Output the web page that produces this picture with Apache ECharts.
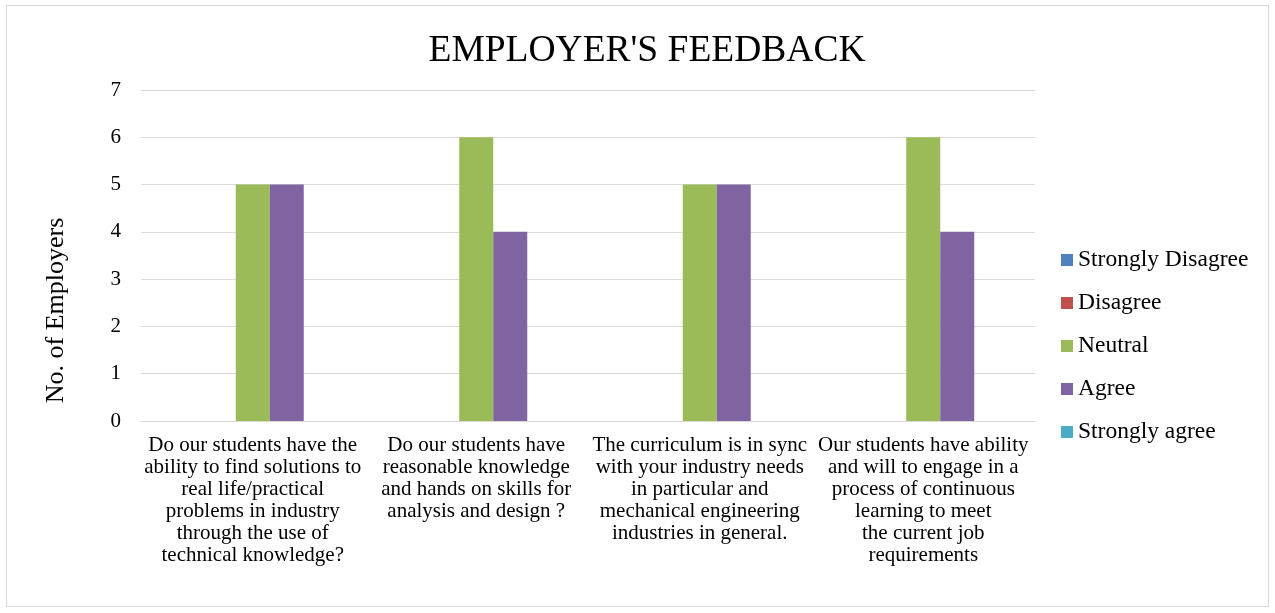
<!DOCTYPE html>
<html>
<head>
<meta charset="utf-8">
<script src="https://cdn.jsdelivr.net/npm/echarts@6/dist/echarts.min.js"></script>
<style>
    html, body { margin: 0; padding: 0; background: #fff; }
    .box { position: absolute; left: 6px; top: 5px; width: 1263px; height: 602px; border: 1px solid #d9d9d9; box-sizing: border-box; }
    #bar-chart { position: absolute; left: 0; top: 0; width: 1275px; height: 613px; }
</style>
</head>
<body>
<div class="box"></div>
<div id="bar-chart"></div>
<script>
const categories = [
    'Do our students have the\nability to find solutions to\nreal life/practical\nproblems in industry\nthrough the use of\ntechnical knowledge?',
    'Do our students have\nreasonable knowledge\nand hands on skills for\nanalysis and design ?',
    'The curriculum is in sync\nwith your industry needs\nin particular and\nmechanical engineering\nindustries in general.',
    'Our students have ability\nand will to engage in a\nprocess of continuous\nlearning to meet\nthe current job\nrequirements'
]
const stronglyDisagree = [0, 0, 0, 0]
const disagree = [0, 0, 0, 0]
const neutral = [5, 6, 5, 6]
const agree = [5, 4, 5, 4]
const stronglyAgree = [0, 0, 0, 0]

const font = '"Liberation Serif", "Times New Roman", serif'

function bar(name, data, color) {
    return {
        name: name,
        type: 'bar',
        data: data,
        barWidth: 34,
        barGap: '0%',
        itemStyle: { color: color }
    }
}

const chart = echarts.init(document.getElementById('bar-chart'), null, { renderer: 'canvas' })
chart.setOption({
    animation: false,
    textStyle: { fontFamily: font },
    title: {
        text: "EMPLOYER'S FEEDBACK",
        left: 642,
        textAlign: 'center',
        top: 27,
        textStyle: { fontFamily: font, fontSize: 37.5, fontWeight: 'normal', color: '#000' }
    },
    grid: { left: 141, right: 240, top: 90, bottom: 192 },
    legend: {
        orient: 'vertical',
        left: 1056,
        top: 243,
        itemWidth: 12,
        itemHeight: 12,
        itemGap: 19,
        icon: 'rect',
        textStyle: { fontFamily: font, fontSize: 23.5, color: '#000' }
    },
    xAxis: {
        type: 'category',
        data: categories,
        axisTick: { show: false },
        axisLine: { lineStyle: { color: '#d9d9d9' } },
        axisLabel: {
            interval: 0,
            margin: 13,
            fontFamily: font,
            fontSize: 21,
            lineHeight: 22,
            color: '#000',
            align: 'center'
        }
    },
    yAxis: {
        type: 'value',
        min: 0,
        max: 7,
        interval: 1,
        name: 'No. of Employers',
        nameLocation: 'middle',
        nameGap: 72,
        nameTextStyle: { fontFamily: font, fontSize: 26, color: '#000', padding: [0, 110, 0, 0] },
        axisLine: { show: false },
        axisTick: { show: false },
        axisLabel: { fontFamily: font, fontSize: 21, color: '#000', margin: 20 },
        splitLine: { lineStyle: { color: '#d9d9d9', width: 1 } }
    },
    series: [
        bar('Strongly Disagree', stronglyDisagree, '#4f81bd'),
        bar('Disagree', disagree, '#c0504d'),
        bar('Neutral', neutral, '#9bbb59'),
        bar('Agree', agree, '#8064a2'),
        bar('Strongly agree', stronglyAgree, '#4bacc6')
    ]
})
</script>
</body>
</html>
